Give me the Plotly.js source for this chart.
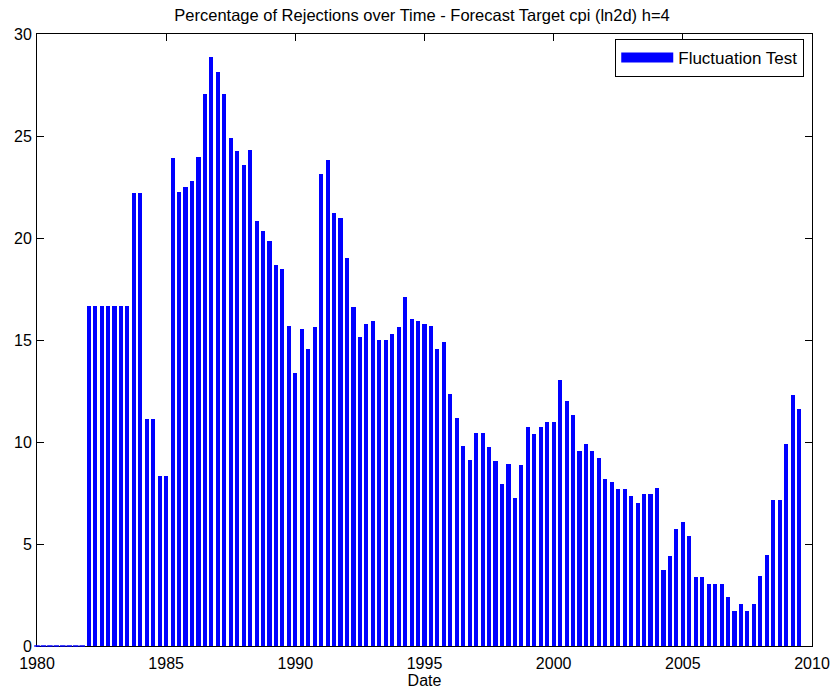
<!DOCTYPE html>
<html>
<head>
<meta charset="utf-8">
<script src="https://cdn.plot.ly/plotly-3.0.1.min.js"></script>
<style>html,body{margin:0;padding:0;background:#fff;}#chart{width:835px;height:695px;}</style>
</head>
<body>
<div id="chart"></div>
<script>
// Quarterly observations starting 1980 Q1
const startYear = 1980;
const quarterStep = 0.25;
const rejections = [
  0, 0, 0, 0, 0, 0, 0, 0,
  16.67, 16.67, 16.67, 16.67, 16.67, 16.67, 16.67,
  22.22, 22.22, 11.11, 11.11, 8.33, 8.33,
  23.94, 22.26, 22.48, 22.80, 23.96, 27.04, 28.86, 28.12,
  27.08, 24.90, 24.28, 23.56, 24.30, 20.84, 20.34, 19.84,
  18.66, 18.50, 15.70, 13.40, 15.54, 14.54, 15.64, 23.14,
  23.84, 21.24, 20.96, 19.04, 16.64, 15.16, 15.80, 15.94,
  15.00, 15.00, 15.30, 15.66, 17.12, 16.02, 15.92, 15.80,
  15.68, 14.58, 14.92, 12.36, 11.20, 9.82, 9.10, 10.44,
  10.44, 9.76, 9.06, 7.96, 8.92, 7.26, 8.88, 10.74,
  10.38, 10.74, 10.96, 10.96, 13.04, 12.00, 11.32, 9.58,
  9.90, 9.58, 9.22, 8.20, 8.04, 7.68, 7.68, 7.36,
  7.02, 7.44, 7.44, 7.74, 3.72, 4.40, 5.74, 6.08,
  5.40, 3.38, 3.38, 3.06, 3.06, 3.06, 2.38, 1.72,
  2.06, 1.72, 2.06, 3.44, 4.44, 7.14, 7.14, 9.88,
  12.28, 11.60
];
const dates = rejections.map((_, i) => startYear + i * quarterStep);
const xTicks = [1980, 1985, 1990, 1995, 2000, 2005, 2010];
const yTicks = [0, 5, 10, 15, 20, 25, 30];
const seriesName = 'Fluctuation Test';

const zeroDates = dates.filter((d, i) => rejections[i] === 0);
const zeroVals = rejections.filter(v => v === 0);

const FONT = 'Liberation Sans, Arial, Helvetica, sans-serif';
const BLUE = '#0000ff';

const traces = [
  {
    type: 'bar', x: dates, y: rejections, width: 0.16,
    marker: {color: BLUE, line: {width: 0}},
    showlegend: false, name: seriesName, hoverinfo: 'x+y'
  },
  {
    type: 'scatter', mode: 'markers', x: zeroDates, y: zeroVals,
    marker: {symbol: 'line-ew', size: 4, line: {color: BLUE, width: 1.5}},
    showlegend: false, cliponaxis: false, hoverinfo: 'skip'
  },
  {
    type: 'scatter', mode: 'lines', x: [null], y: [null],
    line: {color: BLUE, width: 15}, name: seriesName, showlegend: true
  }
];

const layout = {
  width: 835, height: 695,
  margin: {l: 37, r: 23, t: 34, b: 49},
  paper_bgcolor: '#fff', plot_bgcolor: '#fff',
  font: {family: FONT, size: 16, color: '#000'},
  title: {
    text: 'Percentage of Rejections over Time - Forecast Target cpi (ln2d) h=4',
    font: {family: FONT, size: 16.5, color: '#000'},
    x: 422 / 835, xref: 'container', xanchor: 'center',
    y: 1 - 15 / 695, yref: 'container', yanchor: 'middle'
  },
  xaxis: {
    range: [1980, 2010], tickvals: xTicks, ticktext: xTicks.map(String),
    ticks: 'inside', ticklen: 7, tickcolor: '#000', tickwidth: 1,
    showline: true, linecolor: '#000', linewidth: 1, mirror: 'ticks',
    showgrid: false, zeroline: false, layer: 'below traces',
    ticklabelstandoff: 3,
    tickfont: {family: FONT, size: 16, color: '#000'},
    title: {text: 'Date', font: {family: FONT, size: 16, color: '#000'}, standoff: 3}
  },
  yaxis: {
    range: [0, 30], tickvals: yTicks, ticktext: yTicks.map(String),
    ticks: 'inside', ticklen: 7, tickcolor: '#000', tickwidth: 1,
    showline: true, linecolor: '#000', linewidth: 1, mirror: 'ticks',
    showgrid: false, zeroline: false, layer: 'below traces',
    ticklabelstandoff: 1,
    tickfont: {family: FONT, size: 16, color: '#000'}
  },
  showlegend: true,
  legend: {
    x: 0.99, xanchor: 'right', y: 0.992, yanchor: 'top',
    bgcolor: '#fff', bordercolor: '#000', borderwidth: 1,
    font: {family: FONT, size: 17, color: '#000'},
    itemwidth: 52, tracegroupgap: 0
  },
  bargap: 0
};

Plotly.newPlot('chart', traces, layout, {displayModeBar: false, staticPlot: true});
</script>
</body>
</html>
